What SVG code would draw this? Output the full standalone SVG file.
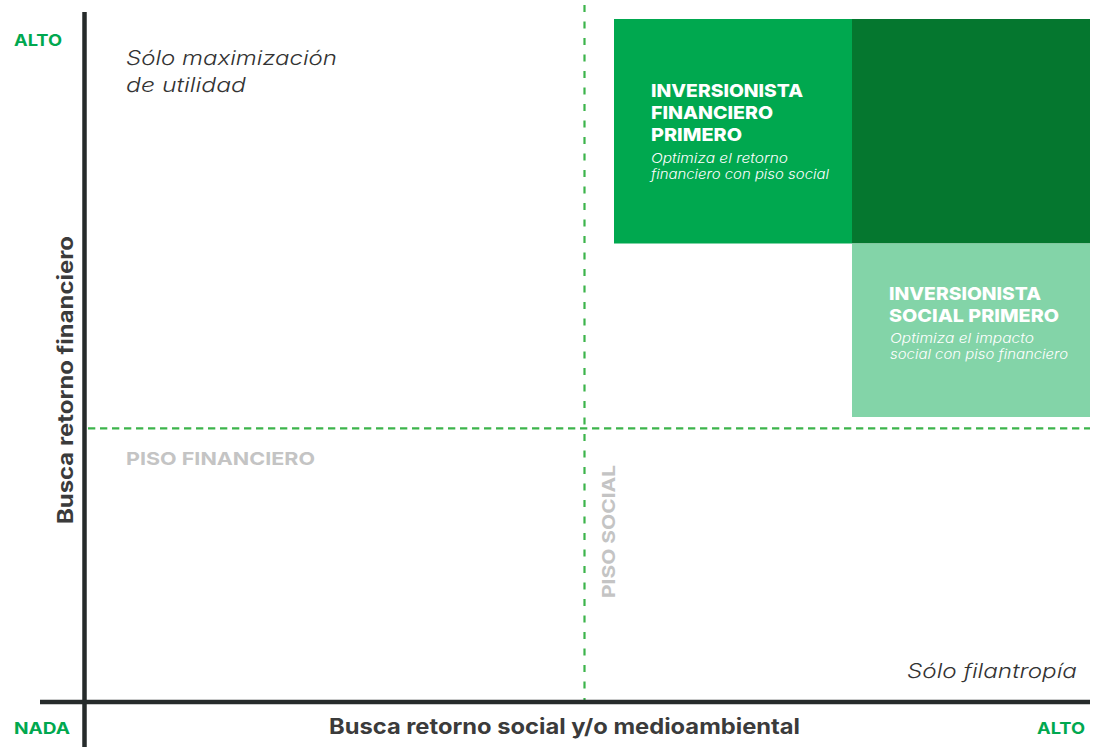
<svg xmlns="http://www.w3.org/2000/svg" width="1096" height="747" viewBox="0 0 1096 747">
<style>
text{font-family:Inter,"Noto Sans","Liberation Sans",sans-serif}
.lvl{fill:#00a84f;font-weight:700;font-size:16px}
.axl{fill:#3b3b3b;font-weight:700;font-size:21px}
.it{fill:#333;font-style:italic;font-weight:300;font-size:20px}
.ttl{fill:#fff;font-weight:800;font-size:18px}
.sub{fill:#fff;font-style:italic;font-weight:300;font-size:13.5px}
.floor{fill:#c4c4c4;font-weight:700;font-size:18px}
.dash{stroke:#3cb44b;stroke-width:2.2;fill:none}
.axis{stroke:#262b2b;stroke-width:4.5;fill:none}
</style>
<rect width="1096" height="747" fill="#fff"/>
<g id="quadrants">
<rect id="financiero-primero-box" x="614" y="19" width="238" height="224.5" fill="#00a84f"/>
<rect id="overlap-box" x="852" y="19" width="238" height="224.5" fill="#05772f"/>
<rect id="social-primero-box" x="852" y="243.5" width="238" height="173.5" fill="#83d4a8"/>
</g>
<g id="connectors">
<line class="dash" x1="88" y1="428.3" x2="1090" y2="428.3" stroke-dasharray="7.3 4.7"/>
<line class="dash" x1="584.5" y1="5" x2="584.5" y2="700" stroke-dasharray="7 9.5"/>
<line class="axis" x1="84.5" y1="12" x2="84.5" y2="747"/>
<line class="axis" x1="40" y1="702" x2="1090" y2="702"/>
</g>
<g id="node-financiero-primero">
<text class="ttl" x="651" y="97" textLength="152" lengthAdjust="spacingAndGlyphs">INVERSIONISTA</text>
<text class="ttl" x="651" y="119" textLength="122" lengthAdjust="spacingAndGlyphs">FINANCIERO</text>
<text class="ttl" x="651" y="140.5" textLength="91" lengthAdjust="spacingAndGlyphs">PRIMERO</text>
<text class="sub" x="651" y="163" textLength="137" lengthAdjust="spacingAndGlyphs">Optimiza el retorno</text>
<text class="sub" x="651" y="179" textLength="178" lengthAdjust="spacingAndGlyphs">financiero con piso social</text>
</g>
<g id="node-social-primero">
<text class="ttl" x="889" y="300" textLength="152" lengthAdjust="spacingAndGlyphs">INVERSIONISTA</text>
<text class="ttl" x="889" y="321.7" textLength="170" lengthAdjust="spacingAndGlyphs">SOCIAL PRIMERO</text>
<text class="sub" x="890" y="343" textLength="144" lengthAdjust="spacingAndGlyphs">Optimiza el impacto</text>
<text class="sub" x="890" y="359" textLength="178" lengthAdjust="spacingAndGlyphs">social con piso financiero</text>
</g>
<g id="node-maximizacion">
<text class="it" x="126" y="65" textLength="211" lengthAdjust="spacingAndGlyphs">Sólo maximización</text>
<text class="it" x="126" y="92" textLength="120" lengthAdjust="spacingAndGlyphs">de utilidad</text>
</g>
<g id="node-filantropia">
<text class="it" x="1077" y="678" text-anchor="end" textLength="170" lengthAdjust="spacingAndGlyphs">Sólo filantropía</text>
</g>
<g id="node-piso-financiero">
<text class="floor" x="126" y="465" textLength="189" lengthAdjust="spacingAndGlyphs">PISO FINANCIERO</text>
</g>
<g id="node-piso-social">
<text class="floor" transform="translate(615,531.5) rotate(-90)" text-anchor="middle" textLength="133" lengthAdjust="spacingAndGlyphs">PISO SOCIAL</text>
</g>
<g id="axis-labels">
<text class="lvl" x="14" y="46" textLength="48" lengthAdjust="spacingAndGlyphs">ALTO</text>
<text class="lvl" x="14" y="733.5" textLength="56" lengthAdjust="spacingAndGlyphs">NADA</text>
<text class="lvl" x="1085" y="733.5" text-anchor="end" textLength="48" lengthAdjust="spacingAndGlyphs">ALTO</text>
<text class="axl" x="564.5" y="733.5" text-anchor="middle" textLength="471" lengthAdjust="spacingAndGlyphs">Busca retorno social y/o medioambiental</text>
<text class="axl" transform="translate(72.5,380) rotate(-90)" text-anchor="middle" textLength="288" lengthAdjust="spacingAndGlyphs">Busca retorno financiero</text>
</g>
</svg>
